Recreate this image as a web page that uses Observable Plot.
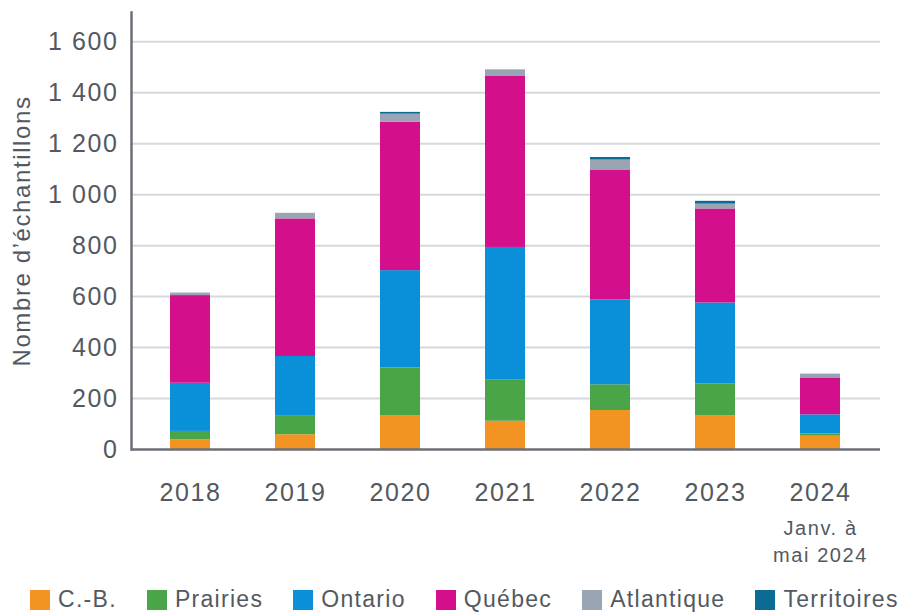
<!DOCTYPE html>
<html>
<head>
<meta charset="utf-8">
<script src="https://cdn.jsdelivr.net/npm/d3@7"></script>
<script src="https://cdn.jsdelivr.net/npm/@observablehq/plot@0.6"></script>
<style>
  body { margin: 0; background: #fff; font-family: "Liberation Sans", Arial, sans-serif; }
  #legend { display: flex; flex-wrap: nowrap; align-items: center; margin-left: 30px; margin-top: 4px; font-size: 23px; letter-spacing: 1.3px; color: #535960; white-space: nowrap; width: 880px; }
  #legend .item { display: flex; align-items: center; margin-right: 30px; flex-shrink: 0; }
  #legend .sw { width: 20px; height: 20px; margin-right: 8px; flex-shrink: 0; }
</style>
</head>
<body>
<div id="chart"></div>
<div id="legend"></div>
<script>
const years = ["2018", "2019", "2020", "2021", "2022", "2023", "2024"];
const regions = ["C.-B.", "Prairies", "Ontario", "Québec", "Atlantique", "Territoires"];
const colors = ["#f39321", "#4aa548", "#0a90d9", "#d30f8b", "#9aa5b4", "#0b6b94"];
const cb = [38, 58, 133, 111, 153, 133, 52];
const prairies = [33, 75, 187, 163, 101, 125, 9];
const ontario = [189, 232, 382, 519, 333, 317, 75];
const quebec = [344, 540, 582, 671, 510, 369, 145];
const atlantique = [10, 22, 32, 26, 39, 19, 15];
const territoires = [0, 0, 7, 0, 10, 11, 0];
const yTicks = [0, 200, 400, 600, 800, 1000, 1200, 1400, 1600];
const yLabel = "Nombre d’échantillons";
const notes = [{year: "2024", text: "Janv. à\nmai 2024"}];

const series = [cb, prairies, ontario, quebec, atlantique, territoires];
const data = [];
years.forEach((yr, i) => {
  regions.forEach((r, j) => data.push({year: yr, region: r, value: series[j][i]}));
});

const fmt = d => d >= 1000 ? Math.floor(d / 1000) + " " + String(d % 1000).padStart(3, "0") : String(d);
const textColor = "#535960";

const chart = Plot.plot({
  width: 905,
  height: 582,
  marginLeft: 131,
  marginRight: 25,
  marginTop: 12,
  marginBottom: 133,
  style: {fontFamily: "'Liberation Sans', Arial, sans-serif", color: textColor, letterSpacing: "1.6px", background: "#fff"},
  x: {domain: years, range: [135, 875], paddingInner: 0.62, paddingOuter: 0.31},
  y: {domain: [0, 1715]},
  color: {domain: regions, range: colors},
  marks: [
    Plot.ruleY(yTicks.filter(d => d > 0), {stroke: "#d6d8db", strokeWidth: 2}),
    Plot.barY(data, {x: "year", y: "value", fill: "region", order: regions}),
    Plot.ruleY([0], {stroke: "#6b7077", strokeWidth: 2.5}),
    Plot.frame({anchor: "left", stroke: "#6b7077", strokeWidth: 2.5}),
    Plot.axisY({ticks: yTicks, tickFormat: fmt, tickSize: 0, tickPadding: 13, fontSize: 25, label: null, fill: textColor}),
    Plot.axisX({tickSize: 0, tickPadding: 34, fontSize: 25, label: null, fill: textColor}),
    Plot.text([yLabel], {text: d => d, frameAnchor: "left", textAnchor: "middle", rotate: -90, dx: -109, fontSize: 24, fill: textColor}),
    Plot.text(notes, {x: "year", text: "text", frameAnchor: "bottom", dy: 112, fontSize: 20, lineHeight: 1.35, fill: textColor})
  ]
});
document.getElementById("chart").appendChild(chart);

const legend = document.getElementById("legend");
regions.forEach((r, j) => {
  const item = document.createElement("div");
  item.className = "item";
  const sw = document.createElement("div");
  sw.className = "sw";
  sw.style.background = colors[j];
  const lab = document.createElement("span");
  lab.textContent = r;
  item.appendChild(sw);
  item.appendChild(lab);
  legend.appendChild(item);
});
</script>
</body>
</html>
